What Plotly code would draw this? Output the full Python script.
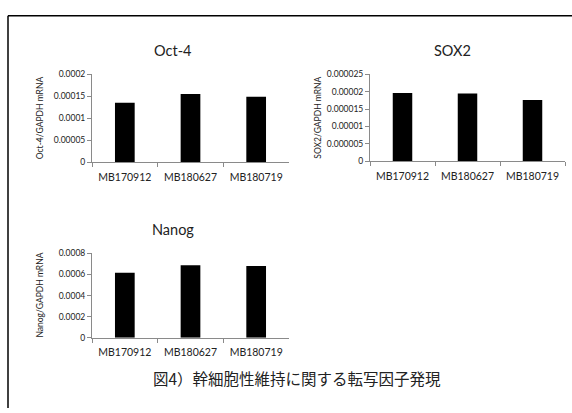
import plotly.graph_objects as go

# Samples and expression ratios (target / GAPDH mRNA)
samples = ["MB170912", "MB180627", "MB180719"]
oct4 = [0.000135, 0.000155, 0.000149]
sox2 = [0.0000196, 0.0000195, 0.0000176]
nanog = [0.000615, 0.000686, 0.00068]

oct4_ticks = [0, 0.00005, 0.0001, 0.00015, 0.0002]
oct4_ticktext = ["0", "0.00005", "0.0001", "0.00015", "0.0002"]
sox2_ticks = [0, 0.000005, 0.00001, 0.000015, 0.00002, 0.000025]
sox2_ticktext = ["0", "0.000005", "0.00001", "0.000015", "0.00002", "0.000025"]
nanog_ticks = [0, 0.0002, 0.0004, 0.0006, 0.0008]
nanog_ticktext = ["0", "0.0002", "0.0004", "0.0006", "0.0008"]

caption = "図4）幹細胞性維持に関する転写因子発現"

W, H = 572, 413
FONT = "Lato, 'Open Sans', sans-serif"


def px(x):
    return x / W


def py(y):
    return 1 - y / H


panels = [
    # name, values, ticks, ticktext, x-domain px, y-domain px (bottom, top), axis suffix
    ("Oct-4", oct4, oct4_ticks, oct4_ticktext, (92, 289), (161, 71), ""),
    ("SOX2", sox2, sox2_ticks, sox2_ticktext, (370, 565), (160, 71), "2"),
    ("Nanog", nanog, nanog_ticks, nanog_ticktext, (92, 289), (341, 254.5), "3"),
]

fig = go.Figure()
annotations = []
layout_axes = {}

for name, vals, tv, tt, (x0, x1), (yb, yt), sfx in panels:
    fig.add_trace(go.Bar(
        x=samples, y=vals, width=0.3,
        marker=dict(color="black", line=dict(width=0)),
        xaxis="x" + sfx, yaxis="y" + sfx, showlegend=False,
    ))
    layout_axes["xaxis" + sfx] = dict(
        domain=[px(x0), px(x1)], anchor="y" + sfx,
        type="category", range=[-0.5, 2.5],
        showline=True, linecolor="#8a8a8a", linewidth=1,
        ticks="outside", tickson="boundaries", ticklen=4, tickcolor="#8a8a8a",
        ticklabelstandoff=5,
        showgrid=False, zeroline=False,
        tickfont=dict(family=FONT, size=10.5, color="#222"),
    )
    top = tv[-1]
    layout_axes["yaxis" + sfx] = dict(
        domain=[py(yb), py(yt)], anchor="x" + sfx,
        range=[0, top],
        tickmode="array", tickvals=tv, ticktext=tt,
        showline=True, linecolor="#8a8a8a", linewidth=1,
        ticks="outside", ticklen=4, tickcolor="#8a8a8a",
        showgrid=False, zeroline=False,
        tickfont=dict(family=FONT, size=8.5, color="#222"),
    )
    # panel title
    annotations.append(dict(
        text=name, x=px((x0 + x1) / 2 - 18 if sfx != "2" else (x0 + x1) / 2 - 15),
        y=py(yt - 24), xref="paper", yref="paper",
        showarrow=False, font=dict(family=FONT, size=14.5, color="#222"),
        xanchor="center", yanchor="middle",
    ))
    # y-axis title
    annotations.append(dict(
        text=f"{name}/GAPDH mRNA", x=px(x0 - 52), y=py((yb + yt) / 2),
        xref="paper", yref="paper", showarrow=False, textangle=-90,
        font=dict(family=FONT, size=8.5, color="#222"),
        xanchor="center", yanchor="middle",
    ))

annotations.append(dict(
    text=caption, x=px(297), y=py(382), xref="paper", yref="paper",
    showarrow=False, font=dict(family="'Noto Sans CJK JP'", size=15.5, color="#222"),
    xanchor="center", yanchor="middle",
))

# outer frame (top and left edges)
shapes = [
    dict(type="line", xref="paper", yref="paper", x0=px(8), x1=1, y0=py(11), y1=py(11),
         line=dict(color="black", width=1.5)),
    dict(type="line", xref="paper", yref="paper", x0=px(8), x1=px(8), y0=py(11), y1=0,
         line=dict(color="black", width=1.5)),
]

fig.update_layout(
    width=W, height=H, margin=dict(l=0, r=0, t=0, b=0),
    paper_bgcolor="white", plot_bgcolor="white",
    annotations=annotations, shapes=shapes, bargap=0.7,
    **layout_axes,
)

fig.write_html("out.html")
